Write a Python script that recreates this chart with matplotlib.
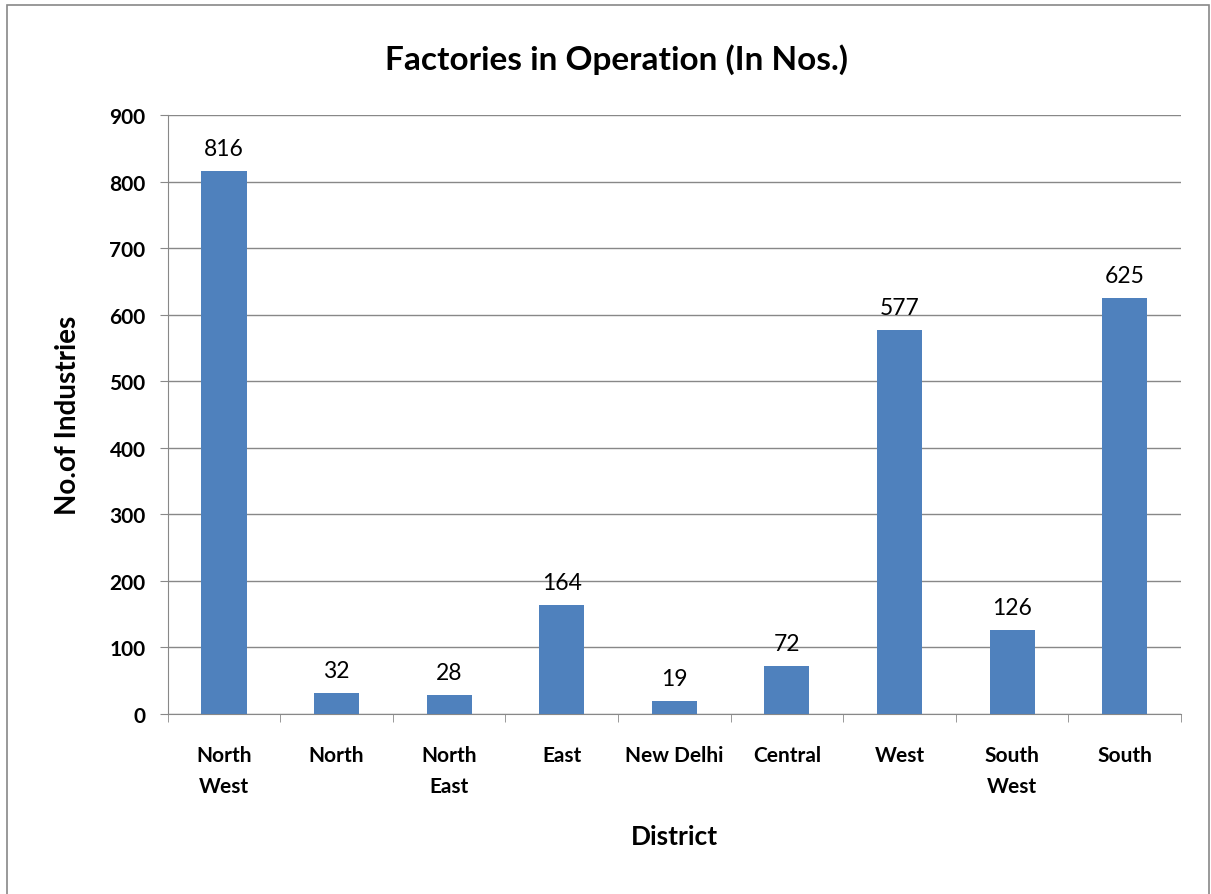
import matplotlib
matplotlib.use("Agg")
import matplotlib.pyplot as plt
from matplotlib.patches import Rectangle

districts = ["North\nWest", "North", "North\nEast", "East", "New Delhi", "Central", "West", "South\nWest", "South"]
factories = [816, 32, 28, 164, 19, 72, 577, 126, 625]
yticks = [0, 100, 200, 300, 400, 500, 600, 700, 800, 900]

plt.rcParams['font.family'] = ['Lato', 'DejaVu Sans']

fig = plt.figure(figsize=(12.11, 8.95), dpi=100)
fig.patches.append(Rectangle((0.006, -0.01), 0.992, 1.003, transform=fig.transFigure,
                             fill=False, edgecolor='#888888', linewidth=1.2))
ax = fig.add_axes([0.1385, 0.2011, 0.8367, 0.6693])

x = list(range(len(districts)))
bars = ax.bar(x, factories, width=0.4, color='#4F81BD', zorder=3)
for xi, v in zip(x, factories):
    ax.text(xi, v + 18, str(v), ha='center', va='bottom', fontsize=16.5, color='black')

ax.set_xlim(-0.5, len(districts) - 0.5)
ax.set_ylim(0, 900)
ax.set_yticks(yticks)
ax.set_yticklabels([str(t) for t in yticks], fontsize=15, fontweight='bold')
ax.set_xticks(x)
ax.set_xticklabels(districts, fontsize=15, fontweight='bold', linespacing=1.7)
ax.tick_params(axis='x', length=0, pad=22)
ax.set_xticks([i + 0.5 for i in range(-1, len(districts))], minor=True)
ax.tick_params(axis='x', which='minor', length=6, color='#888888', direction='out')
ax.tick_params(axis='y', length=6, color='#888888', direction='out', pad=10)
ax.grid(axis='y', color='#888888', linewidth=1, zorder=0)
for s in ['top', 'right']:
    ax.spines[s].set_visible(False)
ax.spines['left'].set_color('#888888')
ax.spines['bottom'].set_color('#888888')

fig.text(0.5087, 0.933, "Factories in Operation (In Nos.)", fontsize=24, fontweight='bold',
         ha='center', va='center')
ax.set_ylabel("No.of Industries", fontsize=20, fontweight='bold', labelpad=20)
ax.set_xlabel("District", fontsize=19, fontweight='bold', labelpad=20)

fig.savefig("out.png", dpi=100)
